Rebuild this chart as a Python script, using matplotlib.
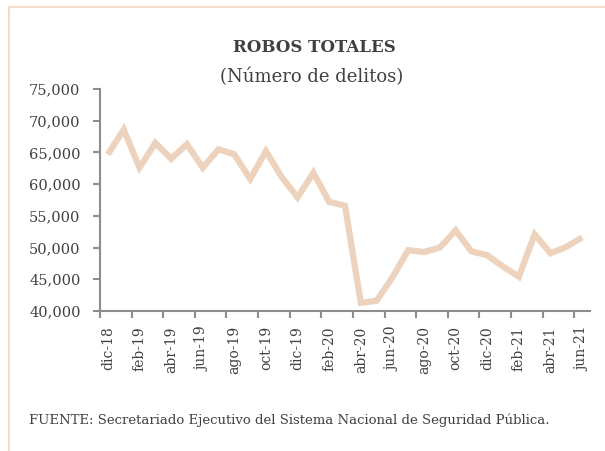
import matplotlib
matplotlib.use("Agg")
import matplotlib.pyplot as plt
from matplotlib.patches import Rectangle

months = ["dic-18", "ene-19", "feb-19", "mar-19", "abr-19", "may-19", "jun-19", "jul-19",
          "ago-19", "sep-19", "oct-19", "nov-19", "dic-19", "ene-20", "feb-20", "mar-20",
          "abr-20", "may-20", "jun-20", "jul-20", "ago-20", "sep-20", "oct-20", "nov-20",
          "dic-20", "ene-21", "feb-21", "mar-21", "abr-21", "may-21", "jun-21"]
robos = [64700, 68600, 62600, 66500, 64000, 66300, 62600, 65500,
         64700, 60800, 65200, 61100, 57900, 61800, 57200, 56600,
         41300, 41600, 45300, 49600, 49300, 50000, 52700, 49400,
         48800, 47000, 45400, 52100, 49100, 50100, 51600]
yticks = [40000, 45000, 50000, 55000, 60000, 65000, 70000, 75000]

title = "ROBOS TOTALES"
subtitle = "(Número de delitos)"
source = "FUENTE: Secretariado Ejecutivo del Sistema Nacional de Seguridad Pública."

txt = "#404040"
axc = "#8c8c8c"
linec = "#EDD3BD"
serif = ["DejaVu Serif"]

fig = plt.figure(figsize=(6.05, 4.51), dpi=100)
fig.patch.set_facecolor("white")

# outer border (cropped at right and bottom)
fig.patches.append(Rectangle((9 / 605, -0.1), 1.2, 1 - 7 / 451 + 0.1,
                             transform=fig.transFigure, fill=False,
                             edgecolor="#F2DCCB", linewidth=1.5))

ax = fig.add_axes([100 / 605, 1 - 311 / 451, 490 / 605, 222 / 451])
x = list(range(len(months)))
ax.plot(x, robos, color=linec, linewidth=4.5, solid_joinstyle="miter", solid_capstyle="butt")

ax.set_xlim(-0.5, len(months) - 0.5)
ax.set_ylim(40000, 75000)
ax.set_yticks(yticks)
ax.set_yticklabels([f"{v:,}" for v in yticks], fontsize=10.5, color=txt, family=serif)

bounds = [i - 0.5 for i in range(0, len(months), 2)]
ax.set_xticks(bounds)
ax.set_xticklabels([""] * len(bounds))
ax.set_xticks(x[::2], minor=True)
ax.set_xticklabels(months[::2], minor=True, rotation=90, fontsize=10, color=txt, family=serif)
ax.tick_params(axis="x", which="major", length=5, width=1.5, color=axc, direction="out")
ax.tick_params(axis="x", which="minor", length=0, pad=11)
ax.tick_params(axis="y", length=5, width=1.5, color=axc, pad=9)

for s in ["top", "right"]:
    ax.spines[s].set_visible(False)
for s in ["left", "bottom"]:
    ax.spines[s].set_color(axc)
    ax.spines[s].set_linewidth(1.5)

fig.text(314 / 605, 1 - 47 / 451, title, ha="center", va="center", fontsize=12,
         fontweight="bold", color=txt, family=serif)
fig.text(312 / 605, 1 - 77 / 451, subtitle, ha="center", va="center", fontsize=13,
         color=txt, family=serif)
fig.text(29 / 605, 1 - 420 / 451, source, ha="left", va="center", fontsize=9.5,
         color=txt, family=serif)

fig.savefig("out.png", dpi=100)
